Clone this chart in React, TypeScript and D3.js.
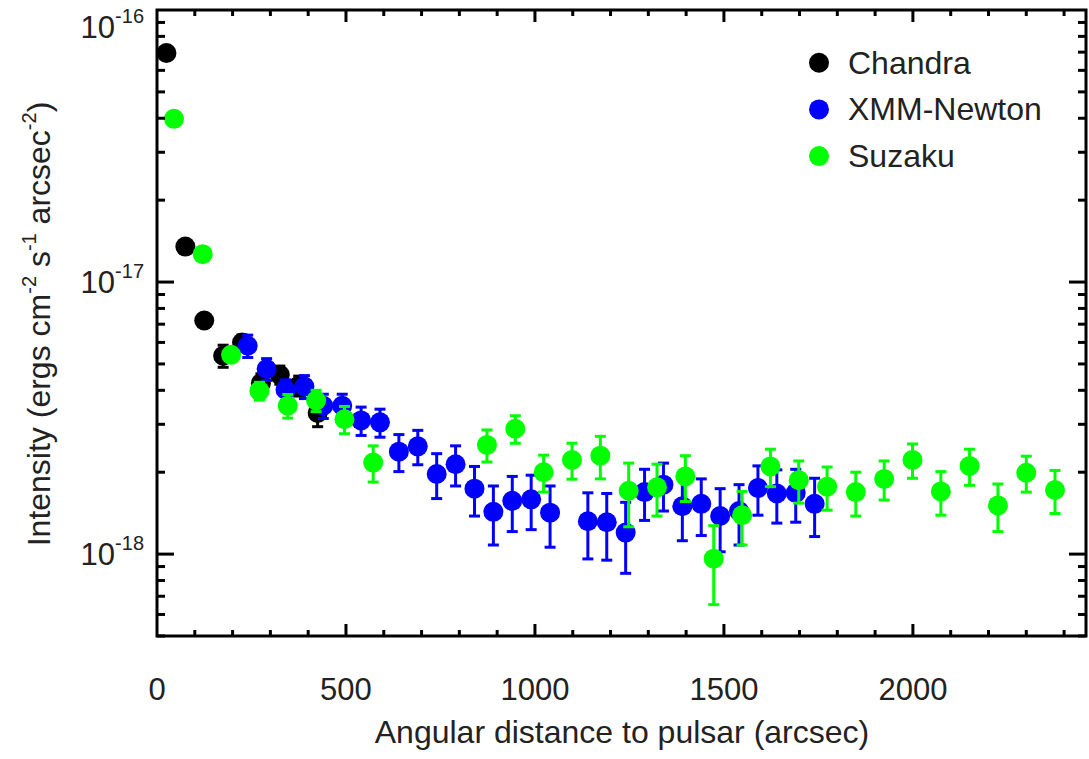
import React, { useEffect, useRef } from 'react';
import * as d3 from 'd3';

// intensities are in units of 1e-18 ergs cm^-2 s^-1 arcsec^-2
const UNIT = 1e-18;

const chandraX = [25, 75, 125, 175, 225, 275, 325, 375, 425];
const chandraY = [69.5, 13.5, 7.22, 5.36, 5.99, 4.25, 4.56, 4.16, 3.30];
const chandraErr = [1.5, 0.3, 0.4, 0.5, 0.4, 0.35, 0.35, 0.35, 0.36];

const xmmX = [240, 290, 340, 390, 440, 490, 540, 590, 640, 690, 740, 790, 840, 890, 940, 990, 1040,
  1140, 1190, 1240, 1290, 1340, 1390, 1440, 1490, 1540, 1590, 1640, 1690, 1740];
const xmmY = [5.83, 4.79, 4.02, 4.13, 3.51, 3.51, 3.10, 3.05, 2.38, 2.49, 1.97, 2.14, 1.74, 1.43, 1.57, 1.59, 1.42,
  1.32, 1.31, 1.20, 1.69, 1.80, 1.50, 1.53, 1.38, 1.44, 1.75, 1.67, 1.68, 1.53];
const xmmErr = [0.55, 0.44, 0.35, 0.40, 0.36, 0.36, 0.37, 0.36, 0.37, 0.36, 0.37, 0.36, 0.36, 0.35, 0.36, 0.36, 0.36,
  0.36, 0.36, 0.35, 0.36, 0.36, 0.38, 0.36, 0.36, 0.36, 0.36, 0.37, 0.37, 0.37];

const suzakuX = [45, 121, 196, 271, 346, 421, 496, 572, 873, 948, 1023, 1098, 1173, 1248, 1323, 1398, 1473,
  1548, 1623, 1698, 1773, 1849, 1924, 1999, 2074, 2150, 2225, 2300, 2376];
const suzakuY = [39.8, 12.66, 5.40, 3.98, 3.51, 3.67, 3.13, 2.17, 2.52, 2.89, 2.00, 2.22, 2.30, 1.71, 1.76, 1.93, 0.962,
  1.39, 2.10, 1.87, 1.77, 1.69, 1.89, 2.22, 1.70, 2.11, 1.51, 1.99, 1.72];
const suzakuErr = [0.8, 0.3, 0.15, 0.3, 0.35, 0.33, 0.36, 0.33, 0.34, 0.335, 0.31, 0.335, 0.41, 0.45, 0.38, 0.37, 0.31,
  0.31, 0.33, 0.33, 0.32, 0.31, 0.31, 0.32, 0.31, 0.32, 0.30, 0.30, 0.31];

const seriesNames = ['Chandra', 'XMM-Newton', 'Suzaku'];
const seriesColors = ['#000000', '#0000ff', '#00ff00'];

const xMajorTicks = [0, 500, 1000, 1500, 2000];
const yMajorExponents = [-16, -17, -18];

const FONT = '"Liberation Sans", Arial, Helvetica, sans-serif';

const App = () => {
  const ref = useRef<SVGSVGElement>(null);

  useEffect(() => {
    const width = 1089;
    const height = 759;
    const left = 157, right = 1086, top = 10, bottom = 636;

    const svg = d3.select(ref.current);
    svg.selectAll('*').remove();
    svg.attr('width', width).attr('height', height);

    const x = d3.scaleLinear().domain([0, 2458]).range([left, right]);
    const y = d3.scaleLog().domain([5e-19, 1e-16]).range([bottom, top]);

    const series = [
      { x: chandraX, y: chandraY, e: chandraErr },
      { x: xmmX, y: xmmY, e: xmmErr },
      { x: suzakuX, y: suzakuY, e: suzakuErr },
    ];

    // data: error bars then markers, one series after another
    series.forEach((s, si) => {
      const color = seriesColors[si];
      const pts = s.x.map((xv, i) => ({ x: xv, v: s.y[i] * UNIT, e: s.e[i] * UNIT }));
      const g = svg.append('g');
      const bars = g.selectAll('.err').data(pts).enter().append('g');
      bars.append('line')
        .attr('x1', d => x(d.x)).attr('x2', d => x(d.x))
        .attr('y1', d => y(d.v + d.e)).attr('y2', d => y(Math.max(d.v - d.e, 5e-19)))
        .attr('stroke', color).attr('stroke-width', 3);
      [1, -1].forEach(sign => {
        bars.append('line')
          .attr('x1', d => x(d.x) - 5.5).attr('x2', d => x(d.x) + 5.5)
          .attr('y1', d => y(d.v + sign * d.e)).attr('y2', d => y(d.v + sign * d.e))
          .attr('stroke', color).attr('stroke-width', 3);
      });
      g.selectAll('.pt').data(pts).enter().append('circle')
        .attr('cx', d => x(d.x)).attr('cy', d => y(d.v)).attr('r', 10)
        .attr('fill', color);
    });

    // frame
    svg.append('rect')
      .attr('x', left).attr('y', top).attr('width', right - left).attr('height', bottom - top)
      .attr('fill', 'none').attr('stroke', '#000').attr('stroke-width', 3);

    const ticks = svg.append('g').attr('stroke', '#000').attr('stroke-width', 3);

    // x ticks every 100, majors every 500
    d3.range(100, 2458, 100).forEach(v => {
      const len = v % 500 === 0 ? 12 : 6;
      ticks.append('line').attr('x1', x(v)).attr('x2', x(v)).attr('y1', bottom).attr('y2', bottom - len);
      ticks.append('line').attr('x1', x(v)).attr('x2', x(v)).attr('y1', top).attr('y2', top + len);
    });

    // y ticks: decades plus 2..9 minors
    const yTickVals: { v: number; major: boolean }[] = [];
    [-19, -18, -17].forEach(p => {
      for (let m = 1; m <= 9; m++) {
        const v = m * Math.pow(10, p);
        if (v >= 5e-19 && v <= 1e-16) yTickVals.push({ v, major: m === 1 });
      }
    });
    yTickVals.forEach(t => {
      const len = t.major ? 17 : 8;
      ticks.append('line').attr('x1', left).attr('x2', left + len).attr('y1', y(t.v)).attr('y2', y(t.v));
      ticks.append('line').attr('x1', right).attr('x2', right - len).attr('y1', y(t.v)).attr('y2', y(t.v));
    });

    // x tick labels
    svg.append('g').selectAll('text').data(xMajorTicks).enter().append('text')
      .attr('x', d => x(d)).attr('y', 700)
      .attr('text-anchor', 'middle')
      .attr('font-family', FONT).attr('font-size', 31).attr('fill', '#222')
      .text(d => d);

    // y tick labels 10^n
    yMajorExponents.forEach(p => {
      const cy = Math.max(y(Math.pow(10, p)), 27);
      const t = svg.append('text')
        .attr('x', 144).attr('y', cy + 11)
        .attr('text-anchor', 'end')
        .attr('font-family', FONT).attr('fill', '#222');
      t.append('tspan').attr('font-size', 31).text('10');
      t.append('tspan').attr('font-size', 20).attr('dy', -15).text(String(p));
    });

    // axis titles
    svg.append('text')
      .attr('x', 622).attr('y', 743)
      .attr('text-anchor', 'middle')
      .attr('font-family', FONT).attr('font-size', 32).attr('fill', '#222')
      .text('Angular distance to pulsar (arcsec)');

    const yt = svg.append('text')
      .attr('transform', 'translate(50,324) rotate(-90)')
      .attr('text-anchor', 'middle')
      .attr('font-family', FONT).attr('font-size', 32).attr('fill', '#222');
    yt.append('tspan').text('Intensity (ergs cm');
    yt.append('tspan').attr('font-size', 20).attr('dy', -14).text('-2');
    yt.append('tspan').attr('dy', 14).text(' s');
    yt.append('tspan').attr('font-size', 20).attr('dy', -14).text('-1');
    yt.append('tspan').attr('dy', 14).text(' arcsec');
    yt.append('tspan').attr('font-size', 20).attr('dy', -14).text('-2');
    yt.append('tspan').attr('dy', 14).text(')');

    // legend
    const legend = svg.append('g').selectAll('g').data(seriesNames).enter().append('g')
      .attr('transform', (d, i) => `translate(819,${62.7 + i * 46.7})`);
    legend.append('circle').attr('r', 10).attr('fill', (d, i) => seriesColors[i]);
    legend.append('text')
      .attr('x', 29).attr('y', 11)
      .attr('font-family', FONT).attr('font-size', 32).attr('fill', '#222')
      .text(d => d);
  }, []);

  return <svg ref={ref} style={{ position: 'absolute', left: 0, top: 0 }}></svg>;
};

export default App;
